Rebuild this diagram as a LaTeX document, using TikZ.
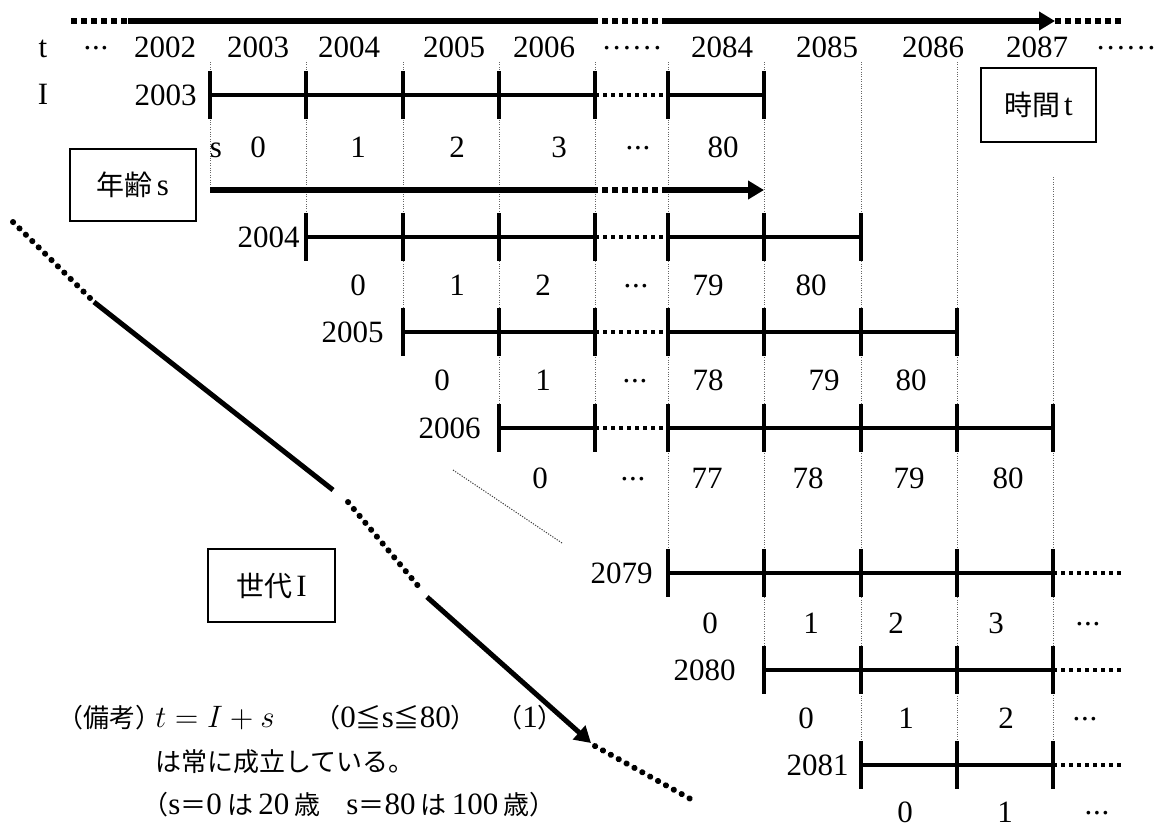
\RequirePackage{fix-cm}
\documentclass[tikz,border=0pt]{standalone}
\usepackage{fontspec}
\setmainfont{Liberation Serif}
\newfontfamily\jpfont{Noto Sans CJK JP}
\usetikzlibrary{arrows.meta}
\newcommand\jbox[1]{{\fontsize{14}{16}\selectfont\jpfont #1}}
\newcommand\jtxt[1]{{\fontsize{13}{15}\selectfont\jpfont #1}}
\newcommand\tdots{\raisebox{3.6pt}{.\kern0.4pt.\kern0.4pt.}}
\newcommand\sixdots{\raisebox{3.6pt}{.\kern1.2pt.\kern1.2pt.\kern1.2pt.\kern1.2pt.\kern1.2pt.}}
\begin{document}
\begin{tikzpicture}[x=0.5pt,y=-0.5pt,
  every node/.style={inner sep=0pt, font=\fontsize{15.5}{18}\selectfont},
  guide/.style={line width=0.5pt, black!60, dash pattern=on 0.5pt off 0.7pt},
  rowline/.style={line width=1.9pt},
  rowdot/.style={line width=1.9pt, dash pattern=on 1.8pt off 2.2pt},
  tickmark/.style={line width=2pt},
  bigline/.style={line width=2.8pt},
  bigdot/.style={line width=2.8pt, dash pattern=on 3pt off 2pt},
  diagline/.style={line width=2.5pt},
  diagdot/.style={line width=3pt, line cap=round, dash pattern=on 0.1pt off 4.4pt},
  hairdot/.style={line width=0.5pt, black!75, dash pattern=on 0.6pt off 0.7pt},
  lbox/.style={draw, line width=1pt},
  arrowend/.style={-{Triangle[length=8pt,width=9pt]}}
]
\useasboundingbox (0,0) rectangle (1154,827);

% vertical guide lines
\foreach \k/\x/\ya/\yb in {0/210/62/190, 1/306/62/237, 2/403/62/332, 3/499/62/428,
  4/595/62/428, 5/668/62/573, 6/764/62/670, 7/861/62/765, 8/957/62/765, 9/1053/177/765}{
  \coordinate (gt\k) at (\x,\ya);
  \coordinate (gb\k) at (\x,\yb);
  \draw[guide] (gt\k) -- (gb\k);
}

% top time arrow
\coordinate (ta0) at (71,21);
\coordinate (ta1) at (128,21);
\coordinate (ta2) at (592,21);
\coordinate (ta3) at (662,21);
\coordinate (ta4) at (1055,21);
\coordinate (ta5) at (1122,21);
\draw[bigdot] (ta0) -- (ta1);
\draw[bigline] (ta1) -- (ta2);
\draw[bigdot] (ta2) -- (ta3);
\draw[bigline, arrowend] (ta3) -- (ta4);
\draw[bigdot] (ta4) -- (ta5);

% age arrow
\coordinate (sa0) at (210,190);
\coordinate (sa1) at (592,190);
\coordinate (sa2) at (662,190);
\coordinate (sa3) at (764,190);
\draw[bigline] (sa0) -- (sa1);
\draw[bigdot] (sa1) -- (sa2);
\draw[bigline, arrowend] (sa2) -- (sa3);

% cohort rows
\foreach \r/\y/\a/\b/\lab/\lx/\ext in {A/95/0/6/2003/197/0, B/237/1/7/2004/300/0,
  C/332/2/8/2005/384/0, D/428/3/9/2006/481/0, E/573/5/9/2079/653/1,
  F/670/6/9/2080/736/1, G/765/7/9/2081/849/1}{
  \foreach \k in {\a,...,\b}{
    \pgfmathsetmacro\cx{{210,306,403,499,595,668,764,861,957,1053}[\k]}
    \coordinate (\r\k) at (\cx,\y);
  }
  \pgfmathtruncatemacro\bm{\b-1}
  \foreach \k in {\a,...,\bm}{
    \pgfmathtruncatemacro\kn{\k+1}
    \ifnum\k=4
      \draw[rowdot] (\r\k) -- (\r\kn);
    \else
      \draw[rowline] (\r\k) -- (\r\kn);
    \fi
  }
  \ifnum\ext=1
    \coordinate (\r10) at (1124,\y);
    \draw[rowdot] (\r9) -- (\r10);
  \fi
  \foreach \k in {\a,...,\b}{
    \draw[tickmark] ([yshift=12pt]\r\k) -- ([yshift=-12pt]\r\k);
  }
  \node[anchor=east] (lab\r) at (\lx,\y) {\lab};
}

% time row
\node[anchor=base] (tt) at (43,57) {t};
\node[anchor=base] (tI) at (43,104) {I};
\foreach \x/\t [count=\i] in {96/\tdots, 165/2002, 258/2003, 349/2004, 454/2005,
  544/2006, 632/\sixdots, 722/2084, 827/2085, 933/2086, 1037/2087, 1126/\sixdots}{
  \node[anchor=base] (yr\i) at (\x,57) {\t};
}

% age rows
\foreach \x/\t [count=\i] in {216/s, 258/0, 358/1, 457/2, 559/3, 638/\tdots, 723/80}{
  \node[anchor=base] (sA\i) at (\x,157) {\t};}
\foreach \x/\t [count=\i] in {358/0, 457/1, 543/2, 636/\tdots, 708/79, 811/80}{
  \node[anchor=base] (sB\i) at (\x,295) {\t};}
\foreach \x/\t [count=\i] in {442/0, 543/1, 635/\tdots, 708/78, 824/79, 911/80}{
  \node[anchor=base] (sC\i) at (\x,390) {\t};}
\foreach \x/\t [count=\i] in {540/0, 633/\tdots, 707/77, 808/78, 909/79, 1008/80}{
  \node[anchor=base] (sD\i) at (\x,488) {\t};}
\foreach \x/\t [count=\i] in {710/0, 811/1, 896/2, 996/3, 1088/\tdots}{
  \node[anchor=base] (sE\i) at (\x,633) {\t};}
\foreach \x/\t [count=\i] in {806/0, 906/1, 1006/2, 1085/\tdots}{
  \node[anchor=base] (sF\i) at (\x,728) {\t};}
\foreach \x/\t [count=\i] in {905/0, 1005/1, 1097/\tdots}{
  \node[anchor=base] (sG\i) at (\x,822) {\t};}

% boxes
\node[lbox, minimum width=63pt, minimum height=36pt] (agebox) at (133,185) {\jbox{年齢}\kern2pt s};
\node[lbox, minimum width=57.5pt, minimum height=37pt] (timebox) at (1038.5,105) {\jbox{時間}\kern2pt t};
\node[lbox, minimum width=63.5pt, minimum height=36.5pt] (genbox) at (271.5,585.5) {\jbox{世代}\kern2pt I};

% generation diagonal
\coordinate (d0) at (13,222);
\coordinate (d1) at (90,298);
\coordinate (d2) at (94,302);
\coordinate (d3) at (333,490);
\coordinate (d4) at (348,502);
\coordinate (d5) at (419,587);
\coordinate (d6) at (427,597);
\coordinate (d7) at (591,743);
\coordinate (d8) at (595,746);
\coordinate (d9) at (696,802);
\draw[diagdot] (d0) -- (d1);
\draw[diagline] (d2) -- (d3);
\draw[diagdot] (d4) -- (d5);
\draw[diagline, arrowend] (d6) -- (d7);
\draw[diagdot] (d8) -- (d9);

% thin dotted diagonal (omitted cohorts)
\coordinate (h0) at (453,470);
\coordinate (h1) at (562,543);
\draw[hairdot] (h0) -- (h1);

% note
\node[anchor=base west] (note1) at (57,727) {\jtxt{（備考）}};
\node[anchor=base west] (eq) at (155,727) {$t = I + s$};
\node[anchor=base west] (range) at (314,727) {\jtxt{（}0\jtxt{≦}s\jtxt{≦}80\jtxt{）}};
\node[anchor=base west] (eqno) at (496,727) {\jtxt{（}1\jtxt{）}};
\node[anchor=base west] (note2) at (155,771) {\jtxt{は常に成立している。}};
\node[anchor=base west] (note3) at (142,814) {\jtxt{（}s\jtxt{＝}0\,\jtxt{は}\,20\,\jtxt{歳　}s\jtxt{＝}80\,\jtxt{は}\,100\,\jtxt{歳）}};
\end{tikzpicture}
\end{document}
